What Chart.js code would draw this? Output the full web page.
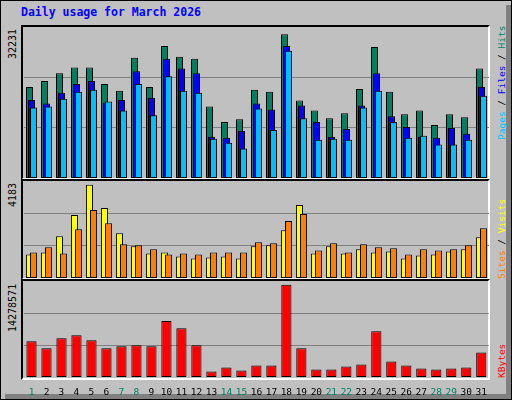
<!DOCTYPE html>
<html><head><meta charset="utf-8">
<script src="https://cdn.jsdelivr.net/npm/chart.js@4"></script>
<style>
html,body{margin:0;padding:0;background:#c0c0c0;}
#wrap{position:absolute;left:0;top:0;width:510px;height:398px;border:1px solid #000;background:#c0c0c0;overflow:hidden;}
#shadow{position:absolute;left:505px;top:4px;width:5px;height:394px;background:#808080;}
#shadowb{position:absolute;left:4px;top:393px;width:506px;height:5px;background:#808080;}
.frame{position:absolute;left:20px;width:469px;border-top:2px solid #000;border-left:2px solid #000;border-right:2px solid #fff;border-bottom:2px solid #fff;box-sizing:border-box;}
canvas{position:absolute;}
.t{position:absolute;font-family:"DejaVu Sans Mono",monospace;font-size:10px;white-space:nowrap;line-height:12px;}
.rot{transform:rotate(-90deg);transform-origin:left top;}
</style></head><body>
<div id="wrap">
<div id="shadow"></div><div id="shadowb"></div>
<div class="t" style="left:20px;top:5px;color:#0000ff;font-weight:bold;font-size:11.5px;">Daily usage for March 2026</div>
<div class="frame" style="top:24px;height:155px;"></div>
<div class="frame" style="top:178px;height:101px;"></div>
<div class="frame" style="top:278px;height:101px;"></div>
<canvas id="c1"></canvas><canvas id="c2"></canvas><canvas id="c3"></canvas>
<div class="t rot" style="left:6px;top:58px;color:#000;" id="l1"></div>
<div class="t rot" style="left:6px;top:206px;color:#000;" id="l2"></div>
<div class="t rot" style="left:6px;top:331px;color:#000;" id="l3"></div>
<div class="t rot" style="left:495px;top:139px;font-size:9.5px;"><span style="color:#00c0ff">Pages</span><span style="color:#000"> / </span><span style="color:#0000ff">Files</span><span style="color:#000"> / </span><span style="color:#008060">Hits</span></div>
<div class="t rot" style="left:495px;top:278px;font-size:9.5px;"><span style="color:#ff8000">Sites</span><span style="color:#000"> / </span><span style="color:#ffff00">Visits</span></div>
<div class="t rot" style="left:495px;top:377px;font-size:9.5px;"><span style="color:#ff0000">KBytes</span></div>
</div>
<script>
const days = Array.from({length:31},(_,i)=>String(i+1));
const weekendDays = [1,7,8,14,15,21,22,28,29];
const hits  = [19830,21100,22800,24080,24080,20460,18970,26200,19830,28760,26420,25990,15570,12170,12800,19190,18760,31310,16850,14720,13020,14080,19400,28540,18760,13870,14720,11530,13870,13230,23860];
const files = [16970,16200,18550,20460,21100,16420,16970,23230,17480,25990,23860,22800,8980,8760,10250,16200,14930,28760,15780,12170,8980,10680,15780,22800,13440,11100,8980,8760,10890,9610,19830];
const pages = [15360,15570,17270,18760,19190,16630,14720,20460,13650,22160,18970,18550,8550,7700,6420,15140,10460,27690,13020,8340,8550,8340,15360,18970,12170,8760,9190,7270,7270,8340,17910];
const visits = [1057,1148,1872,2824,4183,3141,2008,1419,1102,1148,966,876,921,966,876,1419,1465,2144,3277,1102,1419,1102,1284,1148,1193,876,1012,1057,1193,1284,1827];
const sites  = [1148,1374,1102,2190,3050,2461,1510,1465,1284,1057,1102,1057,1148,1148,1148,1601,1555,2552,2869,1238,1555,1148,1510,1374,1329,1057,1284,1238,1284,1465,2235];
const kbytes = [5524000,4430000,5993000,6462000,5680000,4430000,4742000,4899000,4742000,8651000,7556000,4899000,834000,1459000,990000,1772000,1772000,14278571,4430000,1146000,1146000,1615000,1928000,7087000,2397000,1772000,1303000,1146000,1303000,1459000,3804000];
const max1 = 32231, max2 = 4183, max3 = 14278571;
document.getElementById('l1').textContent = String(max1);
document.getElementById('l2').textContent = String(max2);
document.getElementById('l3').textContent = String(max3);

// draw datasets in index order (first one at the back)
const drawOrder = {id:'drawOrder',
  beforeDatasetDraw:(chart,args)=>chart.$manual?undefined:false,
  afterDatasetsDraw:(chart)=>{chart.$manual=true;
    chart.data.datasets.forEach((d,i)=>{chart.getDatasetMeta(i).controller.draw();});
    chart.$manual=false;}};

function place(id,l,t,w,h){const c=document.getElementById(id);c.style.left=l+'px';c.style.top=t+'px';c.style.width=w+'px';c.style.height=h+'px';c.width=w;c.height=h;return c;}
function yScale(max){return {min:0,max:max,display:true,border:{display:false},ticks:{display:false},
  afterBuildTicks:s=>{s.ticks=[{value:max/3},{value:2*max/3}];},
  grid:{color:'#808080',lineWidth:1,drawTicks:false}};}
function xScale(showTicks){return {display:showTicks,border:{display:false},grid:{display:false},
  ticks:{display:showTicks,autoSkip:false,maxRotation:0,padding:2,font:{family:'DejaVu Sans Mono',size:9.5},
    color:c=>weekendDays.includes(c.index+1)?'#008060':'#000'},
  afterFit:s=>{s.height=showTicks?22:0;}};}
const common = {responsive:false,animation:false,events:[],plugins:{legend:{display:false},tooltip:{enabled:false}},layout:{padding:0}};
function ds(label,data,color,extra){return Object.assign({label,data,backgroundColor:color,borderColor:'#000',borderWidth:1,borderSkipped:false},extra);}

new Chart(place('c1',23,26,465,151),{type:'bar',plugins:[drawOrder],data:{labels:days,datasets:[
  ds('Hits',hits,'#008060',{barPercentage:3.5,categoryPercentage:0.4}),
  ds('Files',files,'#0000ff',{barPercentage:3.5,categoryPercentage:0.4}),
  ds('Pages',pages,'#00c0ff',{barPercentage:3.5,categoryPercentage:0.4})]},
  options:Object.assign({},common,{scales:{x:xScale(false),y:yScale(max1*1.02)}})});
new Chart(place('c2',23,180,465,97),{type:'bar',plugins:[drawOrder],data:{labels:days,datasets:[
  ds('Visits',visits,'#ffff00',{barPercentage:1.75,categoryPercentage:0.54}),
  ds('Sites',sites,'#ff8000',{barPercentage:1.75,categoryPercentage:0.54})]},
  options:Object.assign({},common,{scales:{x:xScale(false),y:yScale(max2*1.04)}})});
new Chart(place('c3',23,280,465,118),{type:'bar',data:{labels:days,datasets:[
  ds('KBytes',kbytes,'#ff0000',{barPercentage:0.68,categoryPercentage:1})]},
  options:Object.assign({},common,{scales:{x:xScale(true),y:yScale(max3*1.04)}})});
</script>
</body></html>
